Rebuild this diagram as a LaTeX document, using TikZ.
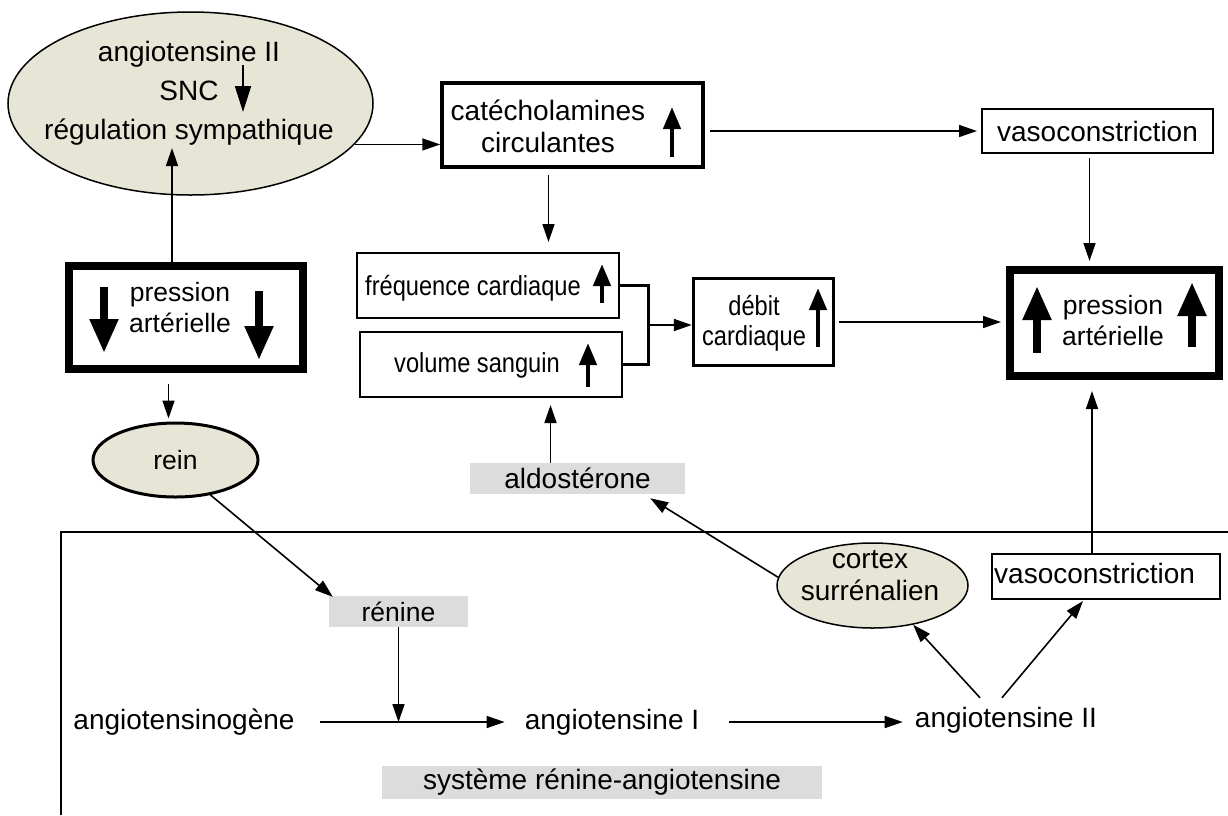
\documentclass[tikz,border=0pt]{standalone}
\usepackage{fontspec}
\setmainfont{Liberation Sans}
\newfontfamily\narrowsans[FakeStretch=0.86]{Liberation Sans}
\usetikzlibrary{arrows.meta,calc,shapes.geometric}
\definecolor{texture}{RGB}{231,229,214}
\definecolor{tagfill}{RGB}{220,220,220}
\tikzset{
  conn/.style={line width=1.6pt,-{Triangle[length=18pt,width=12pt]}},
  box/.style={draw,line width=2pt,inner sep=0pt},
  heavybox/.style={box,line width=3.5pt},
  bigbox/.style={box,line width=8pt},
  blob/.style={ellipse,draw,fill=texture,line width=1.5pt,inner sep=0pt},
  tag/.style={fill=tagfill,inner sep=0pt},
  txt/.style={inner sep=0pt,align=center},
  smallfont/.style={font=\narrowsans\fontsize{27.5}{30}\selectfont},
  midfont/.style={font=\fontsize{26.5}{31}\selectfont},
  uparr/.style={line width=4.5pt,-{Triangle[length=22pt,width=17pt]}},
  bigarr/.style={line width=8pt,-{Triangle[length=34pt,width=27pt]}},
  thinarr/.style={line width=2pt,-{Triangle[length=26pt,width=16pt]}},
}
\begin{document}
\begin{tikzpicture}[x=1pt,y=-1pt,every node/.style={font=\fontsize{28}{32}\selectfont}]
\useasboundingbox (0,0) rectangle (1228,815);

% top row
\node[blob,minimum width=365pt,minimum height=183pt] (snc) at (190.5,103.5) {};
\node[txt] (sncT) at (189,93) {angiotensine II\\[7pt]SNC\hspace*{48pt}\\[7pt]régulation sympathique};
\draw[thinarr] (243,65) -- (243,112);

\node[heavybox,minimum width=261pt,minimum height=84pt] (cat) at (572.5,125) {};
\node[txt] (catT) at (548,126.5) {catécholamines\\circulantes};
\draw[uparr] (672,157) -- (672,107);

\node[box,minimum width=231pt,minimum height=44pt] (vaso) at (1097.5,131) {vasoconstriction};

% middle row
\node[box,minimum width=262pt,minimum height=65pt] (freq) at (488,285.5) {};
\node[txt,smallfont] (freqT) at (473,288) {fréquence cardiaque};
\draw[uparr] (602,303) -- (602,264);

\node[box,minimum width=262pt,minimum height=65pt] (vol) at (491,364.5) {};
\node[txt,smallfont] (volT) at (477,365) {volume sanguin};
\draw[uparr] (588,387) -- (588,343);

\node[heavybox,minimum width=140pt,minimum height=87pt] (deb) at (763.5,322) {};
\node[txt,smallfont] (debT) at (754,323) {débit\\cardiaque};
\draw[uparr] (818,347) -- (818,288);

\node[bigbox,minimum width=209pt,minimum height=106pt] (pressR) at (1114.5,323) {};
\node[txt,midfont] (pressRT) at (1113,321) {pression\\artérielle};
\draw[bigarr] (1037,353) -- (1037,286);
\draw[bigarr] (1192,347) -- (1192,282);

\node[bigbox,minimum width=234pt,minimum height=103pt] (pressL) at (186,317.5) {};
\node[txt,midfont] (pressLT) at (180,308) {pression\\artérielle};
\draw[bigarr] (104,287) -- (104,353);
\draw[bigarr] (259,291) -- (259,360);

% lower part
\node[blob,line width=3pt,minimum width=165pt,minimum height=74pt,midfont] (rein) at (175.5,460) {rein};
\node[tag,minimum width=139pt,minimum height=31pt,midfont] (renine) at (398.5,611.5) {rénine};
\node[tag,minimum width=215pt,minimum height=31pt] (aldo) at (577.5,478.5) {aldostérone};
\node[blob,minimum width=191pt,minimum height=85pt] (cortex) at (872.5,585.5) {};
\node[txt] (cortexT) at (870,576) {cortex\\surrénalien};
\node[box,minimum width=228pt,minimum height=45pt] (vaso2) at (1106,576.5) {};
\node[txt,anchor=west] (vaso2T) at (994,573) {vasoconstriction};
\node[txt] (ang0) at (184,722) {angiotensinogène};
\node[txt] (angI) at (612,722) {angiotensine I};
\node[txt] (angII) at (1006,720) {angiotensine II};
\node[tag,minimum width=440pt,minimum height=33pt] (sys) at (602,782.5) {système rénine-angiotensine};

\draw[line width=1.6pt] (61,815) |- (1228,532);

% connectors
\coordinate (pressUp) at ($(pressL.north)+(-14,0)$);
\draw[conn] (pressUp) -- ++(0,-114);
\draw[conn] (snc.-14) -- (snc.-14 -| cat.west);
\draw[conn,shorten <=5pt,shorten >=4pt] (cat.east |- vaso.west) -- (vaso.west);
\coordinate (vasoDown) at ($(vaso.south)+(-8,0)$);
\draw[conn,shorten <=4pt,shorten >=5pt] (vasoDown) -- (vasoDown |- pressR.north);
\coordinate (catDown) at ($(cat.south)+(-24,0)$);
\draw[conn,shorten <=6pt,shorten >=10pt] (catDown) -- (catDown |- freq.north);
\coordinate (join) at (648,325);
\draw[line width=3pt] (freq.east) -| (join) |- (vol.east);
\draw[line width=2pt,-{Triangle[length=18pt,width=12pt]}] (join) -- (join -| deb.west);
\draw[conn,shorten <=4pt,shorten >=5pt] (deb.east) -- (deb.east -| pressR.west);
\coordinate (vaso2Up) at ($(vaso2.north)+(-14,0)$);
\draw[conn,shorten >=11pt] (vaso2Up) -- (vaso2Up |- pressR.south);
\coordinate (reinIn) at ($(rein.north)+(-7,0)$);
\draw[conn,shorten <=11pt,shorten >=3pt] (reinIn |- pressL.south) -- (reinIn);
\draw[conn] (rein.-45) -- ($(renine.north west)+(4,1)$);
\draw[conn] (renine.south) -- (renine.south |- ang0.east);
\draw[conn,shorten <=25pt,shorten >=20pt] (ang0.east) -- (ang0.east -| angI.west);
\draw[conn,shorten <=30pt,shorten >=12pt] (angI.east) -- (angI.east -| angII.west);
\draw[conn] ($(angII.north)+(-26,-9)$) -- (cortex.-44);
\draw[conn] ($(angII.north)+(-4,-9)$) -- ($(vaso2.south)+(-23,1)$);
\draw[conn] (cortex.175) -- ($(aldo.south east)+(-35,4)$);
\coordinate (aldoUp) at ($(aldo.north)+(-27,0)$);
\draw[conn,shorten >=7pt] (aldoUp) -- (aldoUp |- vol.south);
\end{tikzpicture}
\end{document}
